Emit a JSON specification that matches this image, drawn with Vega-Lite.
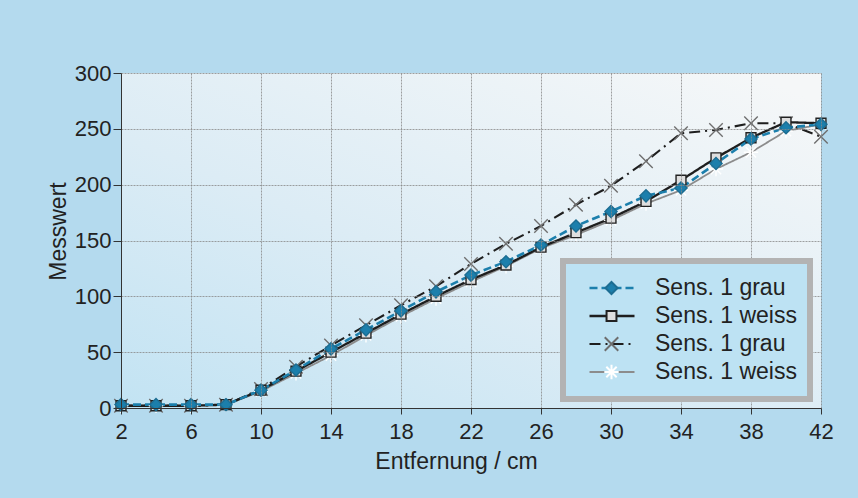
{
  "$schema": "https://vega.github.io/schema/vega-lite/v6.json",
  "width": 700,
  "height": 335,
  "autosize": {"type": "none"},
  "padding": {"left": 121, "top": 73, "right": 37, "bottom": 90},
  "background": "#b4daee",
  "config": {
    "font": "Liberation Sans",
    "view": {"stroke": null},
    "axis": {
      "labelFont": "Liberation Sans",
      "titleFont": "Liberation Sans",
      "labelFontSize": 22,
      "titleFontSize": 23,
      "titleFontWeight": "normal",
      "labelColor": "#222",
      "titleColor": "#222",
      "domainColor": "#333",
      "tickColor": "#333",
      "gridColor": "#888888",
      "gridDash": [2, 1],
      "gridWidth": 0.8,
      "zindex": 1
    }
  },
  "data": {
    "values": [
      {"x": 2, "value": 2, "series": "D: Sens. 1 weiss"},
      {"x": 4, "value": 2, "series": "D: Sens. 1 weiss"},
      {"x": 6, "value": 2, "series": "D: Sens. 1 weiss"},
      {"x": 8, "value": 3, "series": "D: Sens. 1 weiss"},
      {"x": 10, "value": 15, "series": "D: Sens. 1 weiss"},
      {"x": 12, "value": 31, "series": "D: Sens. 1 weiss"},
      {"x": 14, "value": 47, "series": "D: Sens. 1 weiss"},
      {"x": 16, "value": 65, "series": "D: Sens. 1 weiss"},
      {"x": 18, "value": 82, "series": "D: Sens. 1 weiss"},
      {"x": 20, "value": 98, "series": "D: Sens. 1 weiss"},
      {"x": 22, "value": 113, "series": "D: Sens. 1 weiss"},
      {"x": 24, "value": 127, "series": "D: Sens. 1 weiss"},
      {"x": 26, "value": 143, "series": "D: Sens. 1 weiss"},
      {"x": 28, "value": 155, "series": "D: Sens. 1 weiss"},
      {"x": 30, "value": 168, "series": "D: Sens. 1 weiss"},
      {"x": 32, "value": 183, "series": "D: Sens. 1 weiss"},
      {"x": 34, "value": 195, "series": "D: Sens. 1 weiss"},
      {"x": 36, "value": 214, "series": "D: Sens. 1 weiss"},
      {"x": 38, "value": 229, "series": "D: Sens. 1 weiss"},
      {"x": 40, "value": 248, "series": "D: Sens. 1 weiss"},
      {"x": 42, "value": 254, "series": "D: Sens. 1 weiss"},
      {"x": 2, "value": 2, "series": "C: Sens. 1 grau"},
      {"x": 4, "value": 2, "series": "C: Sens. 1 grau"},
      {"x": 6, "value": 2, "series": "C: Sens. 1 grau"},
      {"x": 8, "value": 3, "series": "C: Sens. 1 grau"},
      {"x": 10, "value": 17, "series": "C: Sens. 1 grau"},
      {"x": 12, "value": 37, "series": "C: Sens. 1 grau"},
      {"x": 14, "value": 56, "series": "C: Sens. 1 grau"},
      {"x": 16, "value": 74, "series": "C: Sens. 1 grau"},
      {"x": 18, "value": 92, "series": "C: Sens. 1 grau"},
      {"x": 20, "value": 109, "series": "C: Sens. 1 grau"},
      {"x": 22, "value": 129, "series": "C: Sens. 1 grau"},
      {"x": 24, "value": 147, "series": "C: Sens. 1 grau"},
      {"x": 26, "value": 163, "series": "C: Sens. 1 grau"},
      {"x": 28, "value": 182, "series": "C: Sens. 1 grau"},
      {"x": 30, "value": 199, "series": "C: Sens. 1 grau"},
      {"x": 32, "value": 221, "series": "C: Sens. 1 grau"},
      {"x": 34, "value": 246, "series": "C: Sens. 1 grau"},
      {"x": 36, "value": 249, "series": "C: Sens. 1 grau"},
      {"x": 38, "value": 255, "series": "C: Sens. 1 grau"},
      {"x": 40, "value": 255, "series": "C: Sens. 1 grau"},
      {"x": 42, "value": 243, "series": "C: Sens. 1 grau"},
      {"x": 2, "value": 2, "series": "B: Sens. 1 weiss"},
      {"x": 4, "value": 2, "series": "B: Sens. 1 weiss"},
      {"x": 6, "value": 2, "series": "B: Sens. 1 weiss"},
      {"x": 8, "value": 3, "series": "B: Sens. 1 weiss"},
      {"x": 10, "value": 16, "series": "B: Sens. 1 weiss"},
      {"x": 12, "value": 33, "series": "B: Sens. 1 weiss"},
      {"x": 14, "value": 50, "series": "B: Sens. 1 weiss"},
      {"x": 16, "value": 67, "series": "B: Sens. 1 weiss"},
      {"x": 18, "value": 84, "series": "B: Sens. 1 weiss"},
      {"x": 20, "value": 100, "series": "B: Sens. 1 weiss"},
      {"x": 22, "value": 115, "series": "B: Sens. 1 weiss"},
      {"x": 24, "value": 128, "series": "B: Sens. 1 weiss"},
      {"x": 26, "value": 144, "series": "B: Sens. 1 weiss"},
      {"x": 28, "value": 157, "series": "B: Sens. 1 weiss"},
      {"x": 30, "value": 170, "series": "B: Sens. 1 weiss"},
      {"x": 32, "value": 185, "series": "B: Sens. 1 weiss"},
      {"x": 34, "value": 204, "series": "B: Sens. 1 weiss"},
      {"x": 36, "value": 224, "series": "B: Sens. 1 weiss"},
      {"x": 38, "value": 242, "series": "B: Sens. 1 weiss"},
      {"x": 40, "value": 256, "series": "B: Sens. 1 weiss"},
      {"x": 42, "value": 255, "series": "B: Sens. 1 weiss"},
      {"x": 2, "value": 3, "series": "A: Sens. 1 grau"},
      {"x": 4, "value": 3, "series": "A: Sens. 1 grau"},
      {"x": 6, "value": 3, "series": "A: Sens. 1 grau"},
      {"x": 8, "value": 3, "series": "A: Sens. 1 grau"},
      {"x": 10, "value": 16, "series": "A: Sens. 1 grau"},
      {"x": 12, "value": 34, "series": "A: Sens. 1 grau"},
      {"x": 14, "value": 53, "series": "A: Sens. 1 grau"},
      {"x": 16, "value": 70, "series": "A: Sens. 1 grau"},
      {"x": 18, "value": 87, "series": "A: Sens. 1 grau"},
      {"x": 20, "value": 104, "series": "A: Sens. 1 grau"},
      {"x": 22, "value": 119, "series": "A: Sens. 1 grau"},
      {"x": 24, "value": 131, "series": "A: Sens. 1 grau"},
      {"x": 26, "value": 146, "series": "A: Sens. 1 grau"},
      {"x": 28, "value": 163, "series": "A: Sens. 1 grau"},
      {"x": 30, "value": 176, "series": "A: Sens. 1 grau"},
      {"x": 32, "value": 190, "series": "A: Sens. 1 grau"},
      {"x": 34, "value": 197, "series": "A: Sens. 1 grau"},
      {"x": 36, "value": 219, "series": "A: Sens. 1 grau"},
      {"x": 38, "value": 241, "series": "A: Sens. 1 grau"},
      {"x": 40, "value": 251, "series": "A: Sens. 1 grau"},
      {"x": 42, "value": 254, "series": "A: Sens. 1 grau"}
    ]
  },
  "layer": [
    {
      "mark": {
        "type": "rect",
        "fill": {
          "gradient": "linear",
          "x1": 0, "y1": 1, "x2": 0.9, "y2": 0,
          "stops": [
            {"offset": 0, "color": "#c2e3f3"},
            {"offset": 0.45, "color": "#dcecf5"},
            {"offset": 1, "color": "#f5f7f8"}
          ]
        }
      },
      "encoding": {
        "x": {"datum": 2, "type": "quantitative"},
        "x2": {"datum": 42},
        "y": {"datum": 0, "type": "quantitative"},
        "y2": {"datum": 300}
      }
    },
    {
      "mark": {"type": "line", "strokeCap": "butt"},
      "encoding": {
        "x": {
          "field": "x", "type": "quantitative",
          "scale": {"domain": [2, 42], "nice": false, "zero": false},
          "axis": {
            "values": [2, 4, 6, 8, 10, 12, 14, 16, 18, 20, 22, 24, 26, 28, 30, 32, 34, 36, 38, 40, 42],
            "labelExpr": "datum.value % 4 == 2 ? datum.label : ''",
            "grid": true,
            "zindex": 1,
            "tickSize": 6,
            "labelPadding": 7,
            "title": "Entfernung / cm",
            "titleX": 335,
            "titlePadding": 8,
            "labelFlush": false,
            "labelOverlap": false
          }
        },
        "y": {
          "field": "value", "type": "quantitative",
          "scale": {"domain": [0, 300], "nice": false},
          "axis": {
            "values": [0, 50, 100, 150, 200, 250, 300],
            "grid": true,
            "zindex": 1,
            "tickSize": 8,
            "labelPadding": 2,
            "title": "Messwert",
            "titleY": 158,
            "titlePadding": 4,
            "labelFlush": false,
            "labelOverlap": false
          }
        },
        "color": {
          "field": "series", "type": "nominal",
          "scale": {
            "domain": ["A: Sens. 1 grau", "B: Sens. 1 weiss", "C: Sens. 1 grau", "D: Sens. 1 weiss"],
            "range": ["#1c7fac", "#1e1e1e", "#1e1e1e", "#8c8c8c"]
          },
          "legend": {
            "title": null,
            "orient": "none",
            "legendX": 442,
            "legendY": 188,
            "padding": 13,
            "fillColor": "#bde2f3",
            "strokeColor": "#b3b3b3",
            "symbolType": "stroke",
            "symbolSize": 2025,
            "symbolStrokeWidth": 2,
            "symbolOffset": 12,
            "labelOffset": 19,
            "clipHeight": 28,
            "rowPadding": 0,
            "labelFont": "Liberation Sans",
            "labelFontSize": 23,
            "labelColor": "#222",
            "labelExpr": "substring(datum.label, 3)",
            "zindex": 2,
            "encode": {"legend": {"update": {"strokeWidth": {"value": 6}}}}
          }
        },
        "strokeDash": {
          "field": "series", "type": "nominal",
          "scale": {
            "domain": ["A: Sens. 1 grau", "B: Sens. 1 weiss", "C: Sens. 1 grau", "D: Sens. 1 weiss"],
            "range": [[8, 4], [1, 0], [11, 5, 2, 5], [1, 0]]
          }
        },
        "strokeWidth": {
          "field": "series", "type": "ordinal",
          "scale": {
            "domain": ["A: Sens. 1 grau", "B: Sens. 1 weiss", "C: Sens. 1 grau", "D: Sens. 1 weiss"],
            "range": [2.6, 1.8, 2.2, 2.6]
          },
          "legend": null
        }
      }
    },
    {
      "mark": {"type": "point", "size": 2025, "strokeWidth": 1.4, "opacity": 1},
      "encoding": {
        "x": {"field": "x", "type": "quantitative"},
        "y": {"field": "value", "type": "quantitative"},
        "shape": {
          "field": "series", "type": "nominal",
          "scale": {
            "range": [
              "M0,-0.27L0.27,0L0,0.27L-0.27,0Z",
              "M-0.22,-0.22L0.22,-0.22L0.22,0.22L-0.22,0.22Z",
              "M-0.3,-0.3L0.3,0.3M-0.3,0.3L0.3,-0.3",
              "M-0.32,0L0.32,0M0,-0.32L0,0.32M-0.23,-0.23L0.23,0.23M-0.23,0.23L0.23,-0.23"
            ]
          },
          "legend": {
            "title": null,
            "orient": "none",
            "legendX": 442,
            "legendY": 188,
            "padding": 13,
            "symbolSize": 2025,
            "symbolStrokeWidth": 2,
            "symbolOffset": 12,
            "labelOffset": 19,
            "clipHeight": 28,
            "rowPadding": 0,
            "labelFont": "Liberation Sans",
            "labelFontSize": 23,
            "labelOpacity": 0,
            "labelExpr": "substring(datum.label, 3)",
            "zindex": 3
          }
        },
        "fill": {
          "field": "series", "type": "nominal",
          "scale": {"range": ["#1c7fac", "#dedede", "#7a7a7a", "#ffffff"]}
        },
        "stroke": {
          "field": "series", "type": "nominal",
          "scale": {"range": ["#1c6d92", "#222222", "#6e6e6e", "#ffffff"]}
        }
      }
    }
  ]
}
